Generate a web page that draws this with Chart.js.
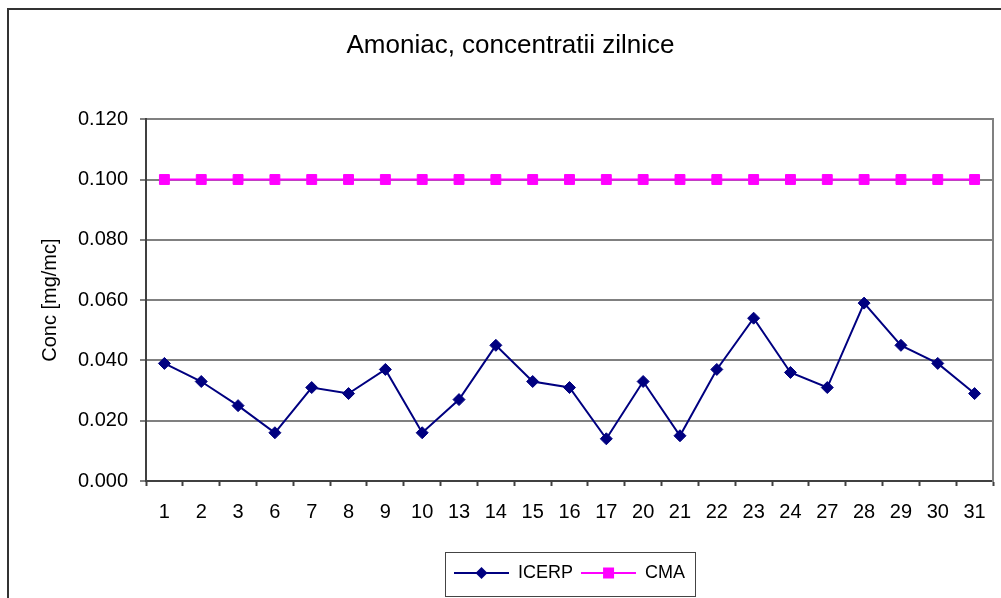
<!DOCTYPE html>
<html>
<head>
<meta charset="utf-8">
<title>Amoniac, concentratii zilnice</title>
<script src="https://cdn.jsdelivr.net/npm/chart.js@4.4.0/dist/chart.umd.min.js"></script>
<style>
  html, body { margin: 0; padding: 0; background: #fff; }
  #chart { display: block; }
</style>
</head>
<body>
<canvas id="chart" width="1001" height="598"></canvas>
<script>
// Days of the month that have a measurement
const days = ["1", "2", "3", "6", "7", "8", "9", "10", "13", "14", "15", "16",
  "17", "20", "21", "22", "23", "24", "27", "28", "29", "30", "31"];

// Daily ammonia concentration, mg/mc
const icerpValues = [0.039, 0.033, 0.025, 0.016, 0.031, 0.029, 0.037, 0.016,
  0.027, 0.045, 0.033, 0.031, 0.014, 0.033, 0.015, 0.037, 0.054, 0.036,
  0.031, 0.059, 0.045, 0.039, 0.029];

// Maximum admitted concentration (CMA)
const cmaValues = [0.1, 0.1, 0.1, 0.1, 0.1, 0.1, 0.1, 0.1, 0.1, 0.1, 0.1, 0.1,
  0.1, 0.1, 0.1, 0.1, 0.1, 0.1, 0.1, 0.1, 0.1, 0.1, 0.1];

const yTicks = [0, 0.02, 0.04, 0.06, 0.08, 0.1, 0.12];

const navy = "#000080";
const magenta = "#ff00ff";

Chart.defaults.font.family = "'Liberation Sans', Arial, sans-serif";
Chart.defaults.color = "#000";

// Small picture for a legend entry: a line with the marker in the middle
function legendIcon(color, shape) {
  const c = document.createElement("canvas");
  c.width = 55;
  c.height = 14;
  const g = c.getContext("2d");
  g.strokeStyle = color;
  g.lineWidth = 2;
  g.beginPath();
  g.moveTo(0, 7);
  g.lineTo(55, 7);
  g.stroke();
  g.fillStyle = color;
  g.beginPath();
  if (shape === "diamond") {
    g.moveTo(27.5, 1);
    g.lineTo(33.5, 7);
    g.lineTo(27.5, 13);
    g.lineTo(21.5, 7);
    g.closePath();
  } else {
    g.rect(22, 1.5, 11, 11);
  }
  g.fill();
  return c;
}

// Outer chart frame and the box around the legend
const framePlugin = {
  id: "frame",
  afterDraw(chart) {
    const ctx = chart.ctx;
    ctx.save();
    ctx.strokeStyle = "#333";
    ctx.lineWidth = 2;
    ctx.beginPath();
    ctx.moveTo(8, 598);
    ctx.lineTo(8, 9);
    ctx.lineTo(1001, 9);
    ctx.stroke();

    const lg = chart.legend;
    if (lg && lg.legendHitBoxes.length) {
      const boxes = lg.legendHitBoxes;
      const first = boxes[0];
      const last = boxes[boxes.length - 1];
      const x0 = first.left - 9;
      const x1 = last.left + last.width + 10;
      ctx.strokeStyle = "#444";
      ctx.lineWidth = 1;
      ctx.strokeRect(Math.round(x0) + 0.5, lg.top - 4 + 0.5, Math.round(x1 - x0), lg.height + 8);
    }
    ctx.restore();
  }
};

const icons = [legendIcon(navy, "diamond"), legendIcon(magenta, "square")];

new Chart(document.getElementById("chart"), {
  type: "line",
  data: {
    labels: days,
    datasets: [
      {
        label: "ICERP",
        data: icerpValues,
        borderColor: navy,
        backgroundColor: navy,
        borderWidth: 2,
        pointStyle: "rectRot",
        pointRadius: 6,
        pointBorderWidth: 1,
        tension: 0,
        yAxisID: "y"
      },
      {
        label: "CMA",
        data: cmaValues,
        borderColor: magenta,
        backgroundColor: magenta,
        borderWidth: 2,
        pointStyle: "rect",
        pointRadius: 7,
        pointBorderWidth: 1,
        tension: 0,
        yAxisID: "y"
      }
    ]
  },
  options: {
    responsive: false,
    animation: false,
    events: [],
    layout: { padding: { left: 20, right: 0, top: 0, bottom: 6 } },
    plugins: {
      title: {
        display: true,
        text: "Amoniac, concentratii zilnice",
        font: { size: 26, weight: "normal" },
        color: "#000",
        padding: { top: 30, bottom: 58 }
      },
      legend: {
        position: "bottom",
        fullSize: false,
        labels: {
          font: { size: 18 },
          color: "#000",
          padding: 8,
          usePointStyle: true,
          pointStyleWidth: 55,
          generateLabels: (chart) => chart.data.datasets.map((ds, i) => ({
            text: ds.label,
            fontColor: "#000",
            pointStyle: icons[i],
            lineWidth: 0,
            strokeStyle: "transparent",
            fillStyle: "transparent",
            datasetIndex: i
          }))
        }
      },
      tooltip: { enabled: false }
    },
    scales: {
      x: {
        offset: true,
        grid: {
          offset: true,
          drawOnChartArea: false,
          drawTicks: true,
          tickLength: 5,
          tickColor: "#404040",
          tickWidth: 2
        },
        border: { color: "#404040", width: 2 },
        ticks: { font: { size: 20 }, color: "#000", padding: 14, maxRotation: 0, autoSkip: false },
        afterFit: (s) => { s.height = 75; }
      },
      y: {
        position: "left",
        min: 0,
        max: 0.12,
        afterBuildTicks: (s) => { s.ticks = yTicks.map((v) => ({ value: v })); },
        grid: {
          color: (c) => (c.tick && c.tick.value === 0 ? "#404040" : "#808080"),
          lineWidth: 2,
          tickLength: 6,
          tickColor: "#808080",
          tickWidth: 2
        },
        border: { color: "#404040", width: 2 },
        ticks: {
          font: { size: 20 },
          color: "#000",
          padding: 12,
          callback: (v) => Number(v).toFixed(3)
        },
        title: {
          display: true,
          text: "Conc [mg/mc]",
          font: { size: 20 },
          color: "#000",
          padding: { top: 18, bottom: 0 }
        },
        afterFit: (s) => { s.width = 126; }
      },
      yR: {
        position: "right",
        min: 0,
        max: 0.12,
        grid: { drawOnChartArea: false, drawTicks: false },
        border: { display: true, color: "#808080", width: 2 },
        ticks: { display: false },
        afterFit: (s) => { s.width = 5; }
      }
    }
  },
  plugins: [framePlugin]
});
</script>
</body>
</html>
